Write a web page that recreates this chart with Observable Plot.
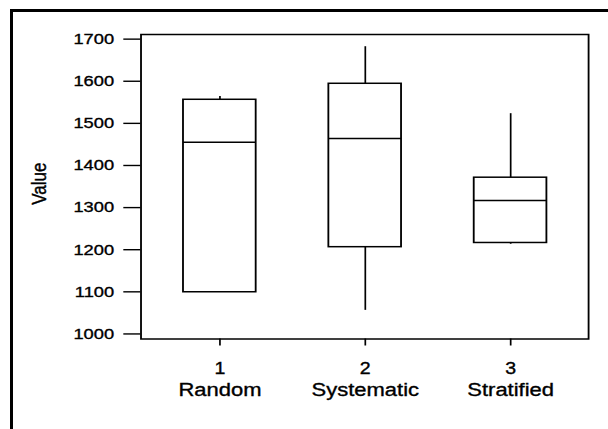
<!DOCTYPE html>
<html>
<head>
<meta charset="utf-8">
<script src="https://cdn.jsdelivr.net/npm/d3@7"></script>
<script src="https://cdn.jsdelivr.net/npm/@observablehq/plot@0.6"></script>
<style>
  html, body { margin: 0; padding: 0; background: #fff; overflow: hidden; }
  #wrap { position: relative; width: 608px; height: 429px; overflow: hidden; background: #fff; }
  #outer { position: absolute; left: 10px; top: 9px; width: 800px; height: 600px;
           border-left: 3px solid #000; border-top: 3px solid #000; box-sizing: border-box; }
  #chart { position: absolute; left: 0; top: 0; }
  #chart svg text { stroke: #000; stroke-width: 0.35px; }
</style>
</head>
<body>
<div id="wrap"><div id="outer"></div><div id="chart"></div></div>
<script>
// Data
const categories = ["Random", "Systematic", "Stratified"];
const positions = [1, 2, 3];
const q1 = [1099, 1206, 1216];
const median = [1455, 1464, 1317];
const q3 = [1556, 1594, 1371];
const whiskerLo = [1099, 1056, 1213];
const whiskerHi = [1564, 1682, 1523];
const yTicks = [1000, 1100, 1200, 1300, 1400, 1500, 1600, 1700];
const yLabel = "Value";

const rows = positions.map((p, i) => ({
  pos: p, cat: categories[i], q1: q1[i], med: median[i], q3: q3[i],
  lo: whiskerLo[i], hi: whiskerHi[i]
}));

const half = 0.25;
const W = 498; // internal width, stretched horizontally to 608 px like the scan

const svg = Plot.plot({
  width: W,
  height: 429,
  marginLeft: 115,
  marginRight: 16.4,
  marginTop: 34,
  marginBottom: 90.5,
  style: { background: "white", color: "black", fontFamily: "Arial, 'Liberation Sans', sans-serif", fontSize: "15px" },
  x: { type: "linear", domain: [0.457, 3.536] },
  y: { domain: [988, 1711] },
  marks: [
    Plot.frame({ stroke: "black", strokeWidth: 1.5 }),
    Plot.ruleX(rows, { x: "pos", y1: "lo", y2: "q1", stroke: "black", strokeWidth: 1.4 }),
    Plot.ruleX(rows, { x: "pos", y1: "q3", y2: "hi", stroke: "black", strokeWidth: 1.4 }),
    Plot.rect(rows, { x1: d => d.pos - half, x2: d => d.pos + half, y1: "q1", y2: "q3",
                      fill: "white", stroke: "black", strokeWidth: 1.5 }),
    Plot.ruleY(rows, { y: "med", x1: d => d.pos - half, x2: d => d.pos + half, stroke: "black", strokeWidth: 1.5 }),
    Plot.axisY({ ticks: yTicks, tickFormat: d3.format("d"), tickSize: 14, tickPadding: 8, fontSize: 15, label: null, strokeWidth: 1.4 }),
    Plot.axisX({ ticks: positions, tickFormat: d => String(d), tickSize: 7, tickPadding: 17, fontSize: 16, label: null, strokeWidth: 1.4 }),
    Plot.axisX({ ticks: positions, tickFormat: d => categories[positions.indexOf(d)], tickSize: 0, tickPadding: 44, fontSize: 18, label: null }),
    Plot.text([yLabel], { frameAnchor: "left", dx: -83, dy: -3, rotate: -90, fontSize: 17,
                          textAnchor: "middle", lineAnchor: "middle", fill: "black" })
  ]
});

svg.setAttribute("width", 608);
svg.setAttribute("height", 429);
svg.setAttribute("preserveAspectRatio", "none");
svg.style.maxWidth = "none";
svg.style.width = "608px";
svg.style.height = "429px";
svg.style.background = "transparent";
document.getElementById("chart").appendChild(svg);
</script>
</body>
</html>
